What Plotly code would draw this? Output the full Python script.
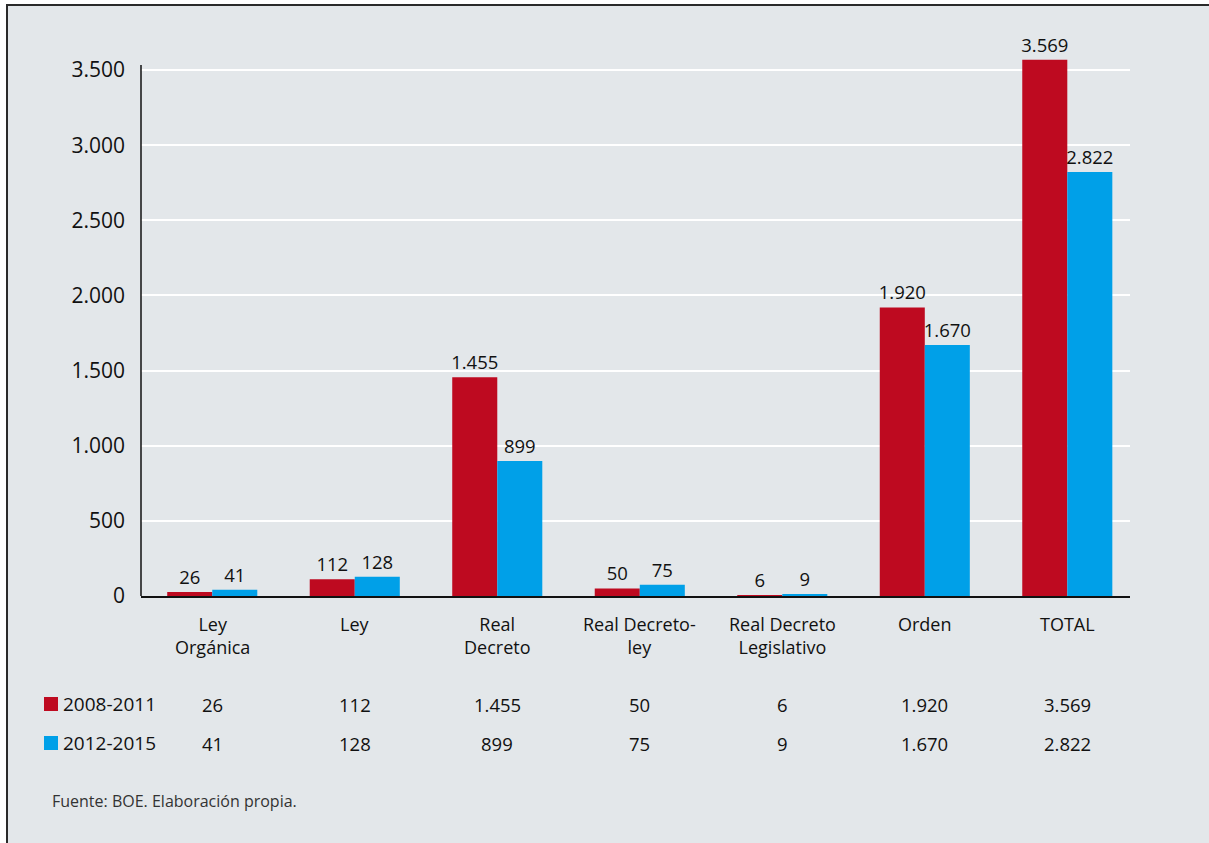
import plotly.graph_objects as go

categories = ["Ley<br>Orgánica", "Ley", "Real<br>Decreto", "Real Decreto-<br>ley",
              "Real Decreto<br>Legislativo", "Orden", "TOTAL"]
series_names = ["2008-2011", "2012-2015"]
values_2008 = [26, 112, 1455, 50, 6, 1920, 3569]
values_2012 = [41, 128, 899, 75, 9, 1670, 2822]
y_ticks = [0, 500, 1000, 1500, 2000, 2500, 3000, 3500]

RED = "#BE0A20"
BLUE = "#00A0E8"
BG = "#E3E7EA"
TXT = "#111111"
FONT = "Open Sans"

W, H = 1209, 843
L, R, T, B = 141, 1130, 40, 596
Y_MAX = 3700
X_RANGE = [-0.5, 6.44]


def px_x(p):
    return (p - L) / (R - L)


def px_y(p):
    return (B - p) / (B - T)


def fmt(v):
    return f"{v:,}".replace(",", ".")


xs = list(range(len(categories)))

fig = go.Figure()
for name, vals, col in [(series_names[0], values_2008, RED), (series_names[1], values_2012, BLUE)]:
    fig.add_trace(go.Bar(
        x=xs, y=vals, name=name, marker=dict(color=col, line=dict(width=0)),
        text=[fmt(v) for v in vals], textposition="outside", constraintext="none",
        textfont=dict(family=FONT, size=18.5, color=TXT),
        cliponaxis=False, showlegend=False,
    ))

shapes = [
    # panel background and frame
    dict(type="rect", xref="paper", yref="paper", x0=px_x(7), x1=px_x(W + 5),
         y0=px_y(5), y1=px_y(H + 5), fillcolor=BG, line=dict(width=0), layer="below"),
    dict(type="line", xref="paper", yref="paper", x0=px_x(6), x1=px_x(W + 5),
         y0=px_y(5), y1=px_y(5), line=dict(color="#2a2a2a", width=2)),
    dict(type="line", xref="paper", yref="paper", x0=px_x(7), x1=px_x(7),
         y0=px_y(4), y1=px_y(H + 5), line=dict(color="#2a2a2a", width=2)),
    # vertical axis line
    dict(type="line", xref="paper", yref="paper", x0=0, x1=0,
         y0=0, y1=px_y(65), line=dict(color=TXT, width=1.5)),
]

annotations = []
for i, c in enumerate(categories):
    annotations.append(dict(x=i, xref="x", y=px_y(610), yref="paper", text=c,
                            showarrow=False, font=dict(family=FONT, size=18, color=TXT),
                            xanchor="center", yanchor="top", align="center"))
    annotations.append(dict(x=i, xref="x", y=px_y(704), yref="paper", text=fmt(values_2008[i]),
                            showarrow=False, font=dict(family=FONT, size=18.5, color=TXT),
                            xanchor="center", yanchor="middle"))
    annotations.append(dict(x=i, xref="x", y=px_y(743), yref="paper", text=fmt(values_2012[i]),
                            showarrow=False, font=dict(family=FONT, size=18.5, color=TXT),
                            xanchor="center", yanchor="middle"))

for name, col, py in [(series_names[0], RED, 704), (series_names[1], BLUE, 743)]:
    shapes.append(dict(type="rect", xref="paper", yref="paper", x0=px_x(44), x1=px_x(58),
                       y0=px_y(py - 7), y1=px_y(py + 7), fillcolor=col, line=dict(width=0)))
    annotations.append(dict(x=px_x(61), xref="paper", y=px_y(py), yref="paper", text=name,
                            showarrow=False, font=dict(family=FONT, size=19, color=TXT),
                            xanchor="left", yanchor="middle"))

annotations.append(dict(x=px_x(50), xref="paper", y=px_y(801), yref="paper",
                        text="Fuente: BOE. Elaboración propia.", showarrow=False,
                        font=dict(family=FONT, size=16, color="#333333"),
                        xanchor="left", yanchor="middle"))

fig.update_layout(
    width=W, height=H,
    margin=dict(l=L, r=W - R, t=T, b=H - B, pad=0),
    paper_bgcolor="white", plot_bgcolor="rgba(0,0,0,0)",
    separators=",.",
    barmode="group", bargap=0.368, bargroupgap=0,
    font=dict(family=FONT, color=TXT),
    shapes=shapes, annotations=annotations,
    xaxis=dict(range=X_RANGE, showticklabels=False, ticks="",
               showgrid=False, zeroline=False, showline=True, linecolor=TXT,
               linewidth=1.5, fixedrange=True),
    yaxis=dict(range=[0, Y_MAX], tickvals=y_ticks, ticktext=[fmt(v) for v in y_ticks],
               tickfont=dict(family=FONT, size=21, color=TXT),
               showgrid=True, gridcolor="white", gridwidth=2, zeroline=False,
               showline=False, ticks="",
               ticklabelstandoff=15, fixedrange=True),
    showlegend=False,
)

fig.write_html("out.html", config={"displayModeBar": False},
               post_script="document.body.style.margin='0';document.body.style.overflow='hidden';")
